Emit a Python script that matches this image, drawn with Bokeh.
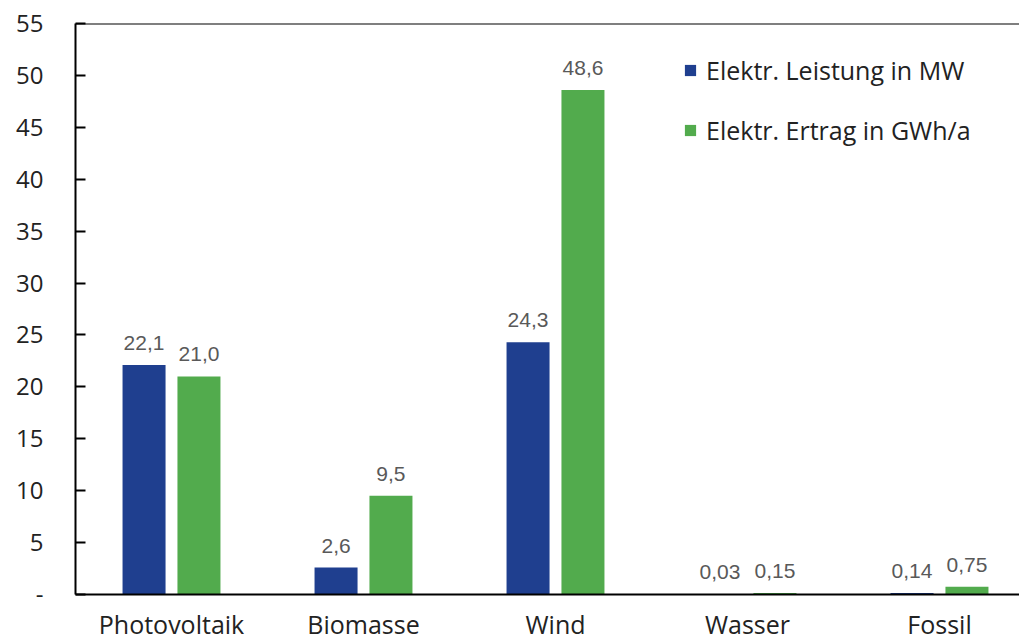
from bokeh.plotting import figure
from bokeh.models import ColumnDataSource, Range1d, FixedTicker, Legend, LegendItem, Span
from bokeh.core.properties import value
from bokeh.embed import file_html
from bokeh.resources import INLINE

categories = ["Photovoltaik", "Biomasse", "Wind", "Wasser", "Fossil"]
leistung_mw = [22.1, 2.6, 24.3, 0.03, 0.14]
ertrag_gwh = [21.0, 9.5, 48.6, 0.15, 0.75]
leistung_labels = ["22,1", "2,6", "24,3", "0,03", "0,14"]
ertrag_labels = ["21,0", "9,5", "48,6", "0,15", "0,75"]
y_ticks = [0, 5, 10, 15, 20, 25, 30, 35, 40, 45, 50, 55]
series_names = ["Elektr. Leistung in MW", "Elektr. Ertrag in GWh/a"]

BLUE = "#1F3F8F"
GREEN = "#52AB4D"
FONT = "Open Sans"

pos = [i + 0.5 for i in range(len(categories))]
off = 0.143
bw = 0.224

src_a = ColumnDataSource(dict(x=[p - off for p in pos], top=leistung_mw, lab=leistung_labels))
src_b = ColumnDataSource(dict(x=[p + off for p in pos], top=ertrag_gwh, lab=ertrag_labels))

p = figure(width=1019, height=643, output_backend="svg", toolbar_location=None,
           x_range=Range1d(0, 944 / 192), y_range=Range1d(0, 55),
           min_border_left=75, min_border_right=0, min_border_top=23, min_border_bottom=48)
p.outline_line_color = None
p.xgrid.visible = False
p.ygrid.visible = False
p.background_fill_color = "white"
p.border_fill_color = "white"

r1 = p.vbar(x="x", top="top", width=bw, source=src_a, color=BLUE, line_color=None)
r2 = p.vbar(x="x", top="top", width=bw, source=src_b, color=GREEN, line_color=None)

for src in (src_a, src_b):
    p.text(x="x", y="top", text="lab", source=src, text_align="center", text_baseline="middle",
           y_offset=-22, text_color="#595959", text_font_size="21px",
           text_font=value("Liberation Sans"))

p.add_layout(Span(location=55, dimension="width", line_color="black", line_width=2))

# y axis
p.yaxis.ticker = FixedTicker(ticks=y_ticks)
p.yaxis.major_label_overrides = {0: "-"}
p.yaxis.major_tick_in = 10
p.yaxis.major_tick_out = 0
p.yaxis.minor_tick_line_color = None
p.yaxis.axis_line_width = 2
p.yaxis.axis_line_color = "black"
p.yaxis.major_tick_line_width = 2
p.yaxis.major_tick_line_color = "black"
p.yaxis.major_label_text_font = FONT
p.yaxis.major_label_text_font_size = "24px"
p.yaxis.major_label_text_color = "#222222"
p.yaxis.major_label_standoff = 32

# x axis
p.xaxis.ticker = FixedTicker(ticks=pos)
p.xaxis.major_label_overrides = {pp: c for pp, c in zip(pos, categories)}
p.xaxis.major_tick_line_color = None
p.xaxis.major_tick_in = 0
p.xaxis.major_tick_out = 0
p.xaxis.minor_tick_line_color = None
p.xaxis.axis_line_width = 2
p.xaxis.axis_line_color = "black"
p.xaxis.major_label_text_font = FONT
p.xaxis.major_label_text_font_size = "25px"
p.xaxis.major_label_text_color = "#222222"
p.xaxis.major_label_standoff = 12

legend = Legend(items=[LegendItem(label=series_names[0], renderers=[r1]),
                       LegendItem(label=series_names[1], renderers=[r2])],
                location=(608, 447))
legend.label_text_font = FONT
legend.label_text_font_size = "25px"
legend.label_text_color = "#222222"
legend.glyph_width = 14
legend.glyph_height = 14
legend.spacing = 26
legend.label_standoff = 9
legend.border_line_color = None
legend.background_fill_alpha = 0
legend.margin = 0
legend.padding = 0
legend.label_height = 26
p.add_layout(legend)

open("out.html", "w").write(file_html(p, INLINE))
